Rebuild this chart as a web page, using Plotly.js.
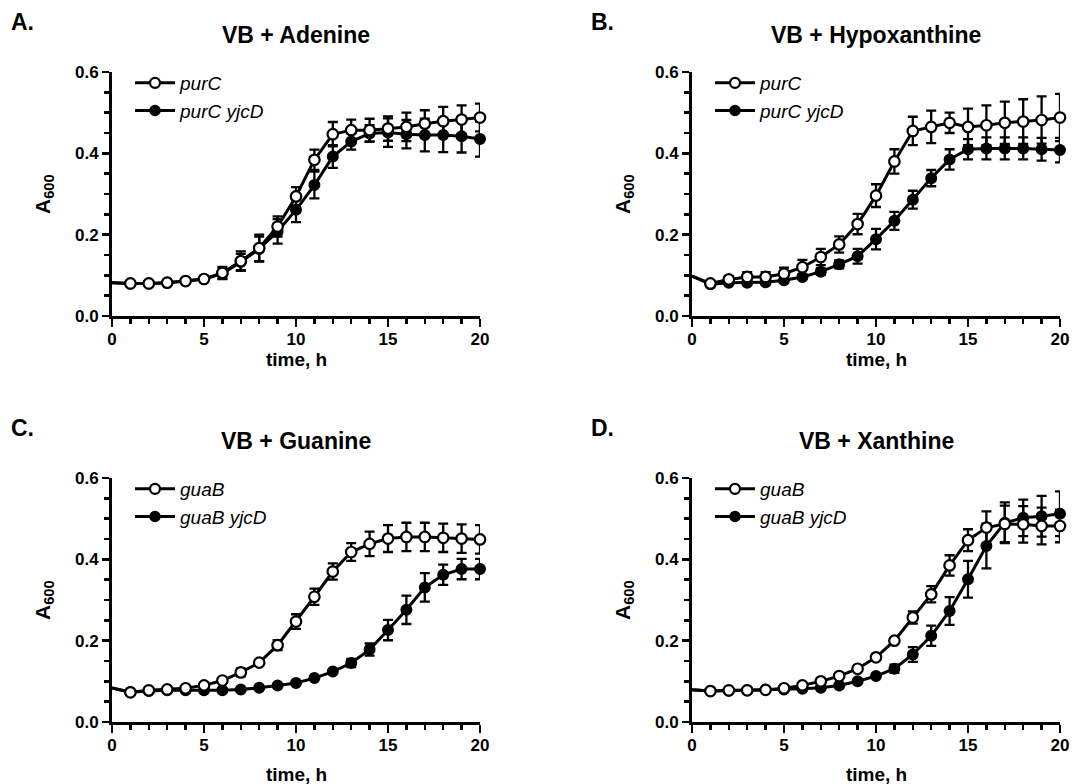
<!DOCTYPE html>
<html>
<head>
<meta charset="utf-8">
<script src="https://cdn.plot.ly/plotly-3.0.1.min.js"></script>
<style>
  html, body { margin: 0; padding: 0; background: #fff; }
  #chart { width: 1072px; height: 784px; }
</style>
</head>
<body>
<div id="chart"></div>
<script>
// time points (h)
const time = [0,1,2,3,4,5,6,7,8,9,10,11,12,13,14,15,16,17,18,19,20];

// Panel A: VB + Adenine
const A_purC      = [0.082,0.080,0.080,0.082,0.086,0.091,0.106,0.135,0.167,0.220,0.294,0.384,0.447,0.457,0.457,0.461,0.465,0.473,0.479,0.483,0.488];
const A_purC_err  = [0,0,0,0,0.005,0.015,0.024,0.033,0.025,0.023,0.025,0.030,0.026,0.028,0.030,0.035,0.033,0.035,0.035,0.034];
const A_yjcD      = [0.082,0.080,0.080,0.082,0.086,0.091,0.104,0.133,0.165,0.208,0.261,0.322,0.392,0.429,0.449,0.451,0.447,0.445,0.445,0.442,0.435];
const A_yjcD_err  = [0,0,0,0,0.005,0.012,0.020,0.030,0.030,0.030,0.033,0.028,0.020,0.020,0.035,0.035,0.040,0.042,0.040,0.043];

// Panel B: VB + Hypoxanthine
const B_purC      = [0.098,0.080,0.090,0.096,0.096,0.104,0.120,0.145,0.176,0.226,0.296,0.380,0.455,0.465,0.475,0.465,0.469,0.475,0.478,0.482,0.488];
const B_purC_err  = [0,0.008,0.012,0.012,0.015,0.018,0.020,0.020,0.025,0.028,0.030,0.035,0.040,0.025,0.045,0.049,0.052,0.055,0.058,0.058];
const B_yjcD      = [0.098,0.078,0.082,0.082,0.083,0.088,0.096,0.109,0.127,0.147,0.189,0.234,0.286,0.339,0.385,0.410,0.412,0.412,0.412,0.410,0.408];
const B_yjcD_err  = [0,0,0,0,0,0.005,0.008,0.010,0.018,0.025,0.022,0.022,0.020,0.025,0.025,0.027,0.027,0.027,0.028,0.030];

// Panel C: VB + Guanine
const C_guaB      = [0.084,0.073,0.078,0.080,0.083,0.090,0.102,0.122,0.146,0.189,0.247,0.308,0.370,0.418,0.438,0.451,0.455,0.455,0.453,0.451,0.449];
const C_guaB_err  = [0,0,0,0,0,0,0.010,0.005,0.012,0.018,0.020,0.020,0.022,0.030,0.033,0.035,0.035,0.035,0.035,0.035];
const C_yjcD      = [0.084,0.073,0.076,0.078,0.078,0.078,0.078,0.080,0.084,0.090,0.096,0.108,0.124,0.145,0.178,0.226,0.276,0.331,0.362,0.376,0.376];
const C_yjcD_err  = [0,0,0,0,0,0,0,0,0,0,0,0,0.010,0.015,0.025,0.035,0.035,0.025,0.025,0.025];

// Panel D: VB + Xanthine
const D_guaB      = [0.079,0.076,0.078,0.078,0.079,0.083,0.090,0.100,0.113,0.131,0.159,0.200,0.257,0.314,0.385,0.447,0.478,0.487,0.486,0.482,0.482];
const D_guaB_err  = [0,0,0,0,0,0,0,0,0,0,0,0.015,0.020,0.025,0.027,0.040,0.045,0.045,0.045,0.040];
const D_yjcD      = [0.079,0.076,0.077,0.078,0.079,0.080,0.082,0.084,0.090,0.100,0.113,0.131,0.166,0.212,0.273,0.351,0.433,0.490,0.502,0.506,0.512];
const D_yjcD_err  = [0,0,0,0,0,0,0,0,0,0,0.010,0.018,0.025,0.034,0.045,0.055,0.050,0.045,0.050,0.055];

const panelTitles = ['VB + Adenine','VB + Hypoxanthine','VB + Guanine','VB + Xanthine'];
const panelLetters = ['A.','B.','C.','D.'];
const wildNames = ['purC','purC','guaB','guaB'];
const mutNames  = ['purC yjcD','purC yjcD','guaB yjcD','guaB yjcD'];

// tick labels
const xTickVals = [0,5,10,15,20];
const xTickText = ['0','5','10','15','20'];
const yTickVals = [0,0.2,0.4,0.6];
const yTickText = ['0.0','0.2','0.4','0.6'];
const xMinorVals = [1,2,3,4,6,7,8,9,11,12,13,14,16,17,18,19];
const yMinorVals = [0.05,0.1,0.15,0.25,0.3,0.35,0.45,0.5,0.55];

const W = 1072, H = 784;
const FONT = 'Liberation Sans, Arial, sans-serif';
const px = v => v / W;
const py = v => 1 - v / H;

// plot boxes in pixels [left, right, top, bottom]
const boxes = [
  [112, 480, 72, 316],
  [692, 1060, 72, 316],
  [112, 480, 478, 722],
  [692, 1060, 478, 722]
];
const xTitleGap = [43, 43, 52, 52];

const series = [
  [A_purC, A_purC_err, A_yjcD, A_yjcD_err],
  [B_purC, B_purC_err, B_yjcD, B_yjcD_err],
  [C_guaB, C_guaB_err, C_yjcD, C_yjcD_err],
  [D_guaB, D_guaB_err, D_yjcD, D_yjcD_err]
];

const sizes = time.map((t, i) => i === 0 ? 0 : 10.5);
const fullErr = e => [NaN].concat(e);
const bold = arr => arr.map(s => '<b>' + s + '</b>');

const traces = [];
const layout = {
  width: W, height: H,
  margin: {l: 0, r: 0, t: 0, b: 0},
  paper_bgcolor: '#fff', plot_bgcolor: '#fff',
  font: {family: FONT, color: '#000'},
  showlegend: true,
  annotations: []
};

series.forEach((s, k) => {
  const n = k + 1;
  const xa = 'x' + (n === 1 ? '' : n);
  const ya = 'y' + (n === 1 ? '' : n);
  const legId = 'legend' + (n === 1 ? '' : n);
  const [l, r, t, b] = boxes[k];

  // mutant (filled) drawn first, wild type (open) on top
  traces.push({
    x: time, y: s[2], xaxis: xa, yaxis: ya, legend: legId, legendrank: 2,
    name: '<i>' + mutNames[k] + '</i>',
    type: 'scatter', mode: 'lines+markers', cliponaxis: false,
    line: {color: '#000', width: 3},
    marker: {symbol: 'circle', size: sizes, opacity: 1, color: '#000', line: {color: '#000', width: 1.5}},
    error_y: {type: 'data', array: fullErr(s[3]), visible: true, color: '#000', thickness: 2.3, width: 5}
  });
  traces.push({
    x: time, y: s[0], xaxis: xa, yaxis: ya, legend: legId, legendrank: 1,
    name: '<i>' + wildNames[k] + '</i>',
    type: 'scatter', mode: 'lines+markers', cliponaxis: false,
    line: {color: '#000', width: 3},
    marker: {symbol: 'circle', size: sizes, opacity: 1, color: '#fff', line: {color: '#000', width: 2.2}},
    error_y: {type: 'data', array: fullErr(s[1]), visible: true, color: '#000', thickness: 2.3, width: 5}
  });

  const axKeyX = 'xaxis' + (n === 1 ? '' : n);
  const axKeyY = 'yaxis' + (n === 1 ? '' : n);
  layout[axKeyX] = {
    domain: [px(l), px(r)], anchor: ya, range: [0, 20],
    tickmode: 'array', tickvals: xTickVals, ticktext: bold(xTickText),
    showline: true, linecolor: '#000', linewidth: 3, mirror: false,
    showgrid: false, zeroline: false,
    ticks: 'outside', ticklen: 8, tickwidth: 2.5, tickcolor: '#000',
    ticklabelstandoff: -2,
    minor: {tickmode: 'array', tickvals: xMinorVals, ticks: 'outside', ticklen: 5, tickwidth: 2.5, tickcolor: '#000', showgrid: false},
    tickfont: {family: FONT, size: 17, color: '#000'},
    fixedrange: true
  };
  layout[axKeyY] = {
    domain: [py(b), py(t)], anchor: xa, range: [0, 0.6],
    tickmode: 'array', tickvals: yTickVals, ticktext: bold(yTickText),
    showline: true, linecolor: '#000', linewidth: 3, mirror: false,
    showgrid: false, zeroline: false,
    ticks: 'outside', ticklen: 7, tickwidth: 2.5, tickcolor: '#000',
    minor: {tickmode: 'array', tickvals: yMinorVals, ticks: 'outside', ticklen: 5, tickwidth: 2.5, tickcolor: '#000', showgrid: false},
    tickfont: {family: FONT, size: 17, color: '#000'},
    fixedrange: true
  };
  layout[legId] = {
    x: px(l + 18), y: py(t - 8), xanchor: 'left', yanchor: 'top',
    bgcolor: 'rgba(0,0,0,0)', borderwidth: 0,
    font: {family: FONT, size: 19, color: '#000'},
    tracegroupgap: 0, itemwidth: 40
  };

  const cx = (l + r) / 2;
  // panel title
  layout.annotations.push({
    text: '<b>' + panelTitles[k] + '</b>', xref: 'paper', yref: 'paper',
    x: px(cx), y: py(t - 37), xanchor: 'center', yanchor: 'middle', showarrow: false,
    font: {family: FONT, size: 23, color: '#000'}
  });
  // panel letter
  layout.annotations.push({
    text: '<b>' + panelLetters[k] + '</b>', xref: 'paper', yref: 'paper',
    x: px(l - 103), y: py(t - 50), xanchor: 'left', yanchor: 'middle', showarrow: false,
    font: {family: FONT, size: 23, color: '#000'}
  });
  // x axis title
  layout.annotations.push({
    text: '<b>time, h</b>', xref: 'paper', yref: 'paper',
    x: px(cx), y: py(b + xTitleGap[k]), xanchor: 'center', yanchor: 'middle', showarrow: false,
    font: {family: FONT, size: 19, color: '#000'}
  });
  // y axis title
  layout.annotations.push({
    text: '<b>A<sub>600</sub></b>', xref: 'paper', yref: 'paper',
    x: px(l - 68), y: py((t + b) / 2), xanchor: 'center', yanchor: 'middle', showarrow: false,
    textangle: -90,
    font: {family: FONT, size: 21, color: '#000'}
  });
});

Plotly.newPlot('chart', traces, layout, {staticPlot: true, displayModeBar: false});
</script>
</body>
</html>
